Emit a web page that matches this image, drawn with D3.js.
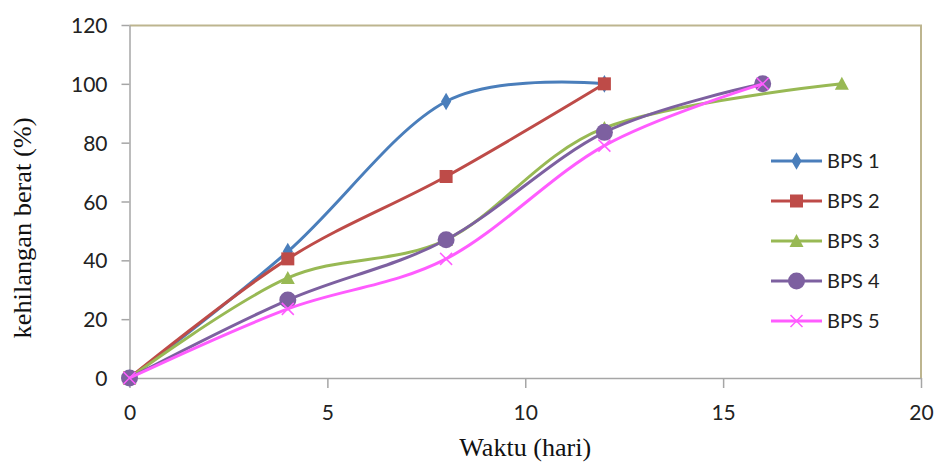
<!DOCTYPE html>
<html>
<head>
<meta charset="utf-8">
<script src="https://cdn.jsdelivr.net/npm/d3@7"></script>
<style>
    body { margin: 0; background: #fff; }
    svg { display: block; }
</style>
</head>
<body>
<div id="chart"></div>
<script>
// data
const seriesNames = ["BPS 1", "BPS 2", "BPS 3", "BPS 4", "BPS 5"];
const days1 = [0, 4, 8, 12];
const loss1 = [0, 43, 94, 100];
const days2 = [0, 4, 8, 12];
const loss2 = [0, 40.5, 68.5, 100];
const days3 = [0, 4, 8, 12, 18];
const loss3 = [0, 34, 47, 85, 100];
const days4 = [0, 4, 8, 12, 16];
const loss4 = [0, 26.5, 47, 83.5, 100];
const days5 = [0, 4, 8, 12, 16];
const loss5 = [0, 23.5, 40.5, 79, 100];
const xTicks = [0, 5, 10, 15, 20];
const yTicks = [0, 20, 40, 60, 80, 100, 120];

const colors = ["#4A7EBB", "#BE4B48", "#98B954", "#7D60A0", "#FF5CFF"];
const markers = ["diamond", "square", "triangle", "circle", "cross"];

const series = [
    { name: seriesNames[0], x: days1, y: loss1 },
    { name: seriesNames[1], x: days2, y: loss2 },
    { name: seriesNames[2], x: days3, y: loss3 },
    { name: seriesNames[3], x: days4, y: loss4 },
    { name: seriesNames[4], x: days5, y: loss5 }
];

const width = 935, height = 463;
const margin = { top: 25, right: 14, bottom: 85, left: 129.5 };
const innerW = width - margin.left - margin.right;
const innerH = height - margin.top - margin.bottom;

const svg = d3.select("#chart").append("svg")
    .attr("width", width)
    .attr("height", height);

const g = svg.append("g")
    .attr("transform", `translate(${margin.left}, ${margin.top})`);

const xScale = d3.scaleLinear().domain([0, 20]).range([0, innerW]);
const yScale = d3.scaleLinear().domain([0, 120]).range([innerH, 0]);

// plot area border (top and right only visible)
g.append("path")
    .attr("d", `M0,0.5H${innerW}V${innerH}`)
    .attr("fill", "none")
    .attr("stroke", "#BDB58F")
    .attr("stroke-width", 2);

// axes
const xAxis = g.append("g")
    .attr("transform", `translate(0, ${innerH})`)
    .call(d3.axisBottom(xScale).tickValues(xTicks).tickSize(10).tickSizeOuter(0).tickPadding(17));
const yAxis = g.append("g")
    .call(d3.axisLeft(yScale).tickValues(yTicks).tickSize(8).tickSizeOuter(0).tickPadding(14));

[xAxis, yAxis].forEach(ax => {
    ax.select(".domain").attr("stroke", "#A6A6A6").attr("stroke-width", 1.5);
    ax.selectAll(".tick line").attr("stroke", "#A6A6A6").attr("stroke-width", 1.5);
    ax.selectAll(".tick text")
        .attr("fill", "#222")
        .style("font-family", "Lato, 'Open Sans', sans-serif")
        .style("font-size", "21px");
});
yAxis.selectAll(".tick text").attr("dy", "0.36em");

// axis titles
svg.append("text")
    .attr("x", (129.5 + 921) / 2)
    .attr("y", 456)
    .attr("text-anchor", "middle")
    .attr("textLength", 132)
    .attr("lengthAdjust", "spacingAndGlyphs")
    .style("font-family", "'Liberation Serif', 'Times New Roman', serif")
    .style("font-size", "25px")
    .attr("fill", "#111")
    .text("Waktu (hari)");

svg.append("text")
    .attr("transform", "translate(31, 228) rotate(-90)")
    .attr("text-anchor", "middle")
    .attr("textLength", 221)
    .attr("lengthAdjust", "spacingAndGlyphs")
    .style("font-family", "'Liberation Serif', 'Times New Roman', serif")
    .style("font-size", "25px")
    .attr("fill", "#111")
    .text("kehilangan berat (%)");

// marker drawing
function drawMarker(sel, type, color) {
    if (type === "diamond") {
        sel.append("path").attr("d", d3.symbol(d3.symbolDiamond, 90)()).attr("fill", color);
    } else if (type === "square") {
        sel.append("rect").attr("x", -6.5).attr("y", -6.5).attr("width", 13).attr("height", 13).attr("fill", color);
    } else if (type === "triangle") {
        sel.append("path").attr("d", "M0,-7L7,6L-7,6Z").attr("fill", color);
    } else if (type === "circle") {
        sel.append("circle").attr("r", 8.5).attr("fill", color);
    } else if (type === "cross") {
        sel.append("path").attr("d", "M-6,-6L6,6M-6,6L6,-6")
            .attr("stroke", color).attr("stroke-width", 1.5).attr("fill", "none");
    }
}

const line = d3.line()
    .x(d => xScale(d[0]))
    .y(d => yScale(d[1]))
    .curve(d3.curveCardinal.tension(0));

series.forEach((s, i) => {
    const pts = s.x.map((v, j) => [v, s.y[j]]);
    g.append("path")
        .datum(pts)
        .attr("fill", "none")
        .attr("stroke", colors[i])
        .attr("stroke-width", 3)
        .attr("d", line);

    g.selectAll(".m" + i)
        .data(pts)
        .enter()
        .append("g")
        .attr("class", "m" + i)
        .attr("transform", d => `translate(${xScale(d[0])}, ${yScale(d[1])})`)
        .each(function() { drawMarker(d3.select(this), markers[i], colors[i]); });
});

// legend
const legend = svg.append("g").attr("transform", "translate(771, 161)");
seriesNames.forEach((name, i) => {
    const item = legend.append("g").attr("transform", `translate(0, ${i * 40})`);
    item.append("line")
        .attr("x1", 0).attr("x2", 51)
        .attr("stroke", colors[i]).attr("stroke-width", 3);
    drawMarker(item.append("g").attr("transform", "translate(25.5, 0)"), markers[i], colors[i]);
    item.append("text")
        .attr("x", 56)
        .attr("dy", "0.36em")
        .attr("fill", "#222")
        .style("font-family", "Lato, 'Open Sans', sans-serif")
        .style("font-size", "20px")
        .text(name);
});
</script>
</body>
</html>
